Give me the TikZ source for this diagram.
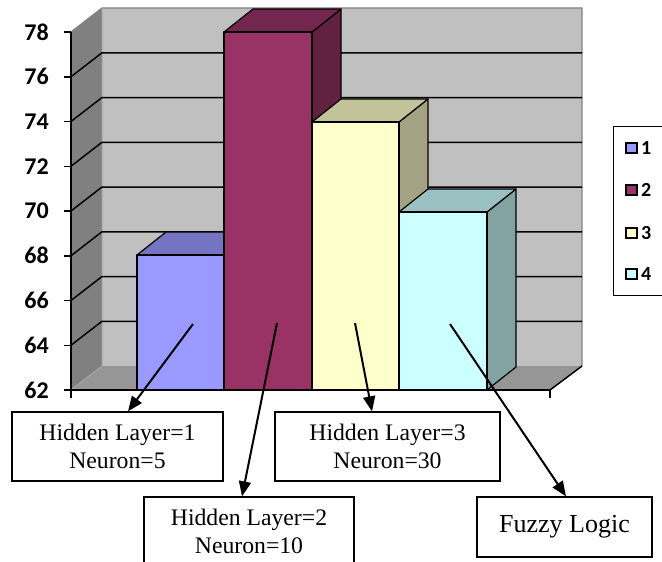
\documentclass[tikz,border=0pt]{standalone}
\usepackage{fontspec}
\setmainfont{Liberation Serif}
\newfontfamily\axisfont{Carlito}
\usetikzlibrary{arrows.meta,calc}

\definecolor{wallside}{HTML}{808080}
\definecolor{wallback}{HTML}{C0C0C0}
\definecolor{floorgray}{HTML}{969696}
\definecolor{barA}{HTML}{9999FF}
\definecolor{barB}{HTML}{993366}
\definecolor{barC}{HTML}{FFFFCC}
\definecolor{barD}{HTML}{CCFFFF}

% one 3-D column: left x, right x, top y, colour (base at y=390, depth 29/-23)
\newcommand\columnbar[4]{%
  \filldraw[barline, fill=#4!64!black] (#2,390) -- (#2+29,367) -- (#2+29,#3-23) -- (#2,#3) -- cycle;
  \filldraw[barline, fill=#4!76!black] (#1,#3) -- (#1+29,#3-23) -- (#2+29,#3-23) -- (#2,#3) -- cycle;
  \filldraw[barline, fill=#4] (#1,390) rectangle (#2,#3);
}

\begin{document}
\begin{tikzpicture}[x=1pt, y=-1pt,
  barline/.style={draw=black, line width=1.2pt, line join=round},
  grid/.style={black, line width=1.5pt},
  walledge/.style={draw=wallside, line width=1.2pt},
  ticklabel/.style={font=\axisfont\bfseries\fontsize{24}{28}\selectfont, anchor=east, inner sep=0pt},
  legkey/.style={draw=black, line width=1.7pt, minimum size=10.5pt, inner sep=0pt},
  legtext/.style={font=\axisfont\bfseries\fontsize{20}{22}\selectfont, anchor=west, inner sep=0pt},
  infobox/.style={draw=black, line width=1.3pt, align=center, inner sep=0pt,
    font=\fontsize{23.7}{28}\selectfont},
  pointer/.style={line width=2pt, -{Triangle[length=15pt,width=12pt]}}
]
\useasboundingbox (0,0) rectangle (662,562);
\clip (0,0) rectangle (662,562);

% walls and floor
\fill[wallside] (71,32) -- (102,8) -- (102,366) -- (71,390) -- cycle;
\fill[wallback] (102,8) rectangle (582,366);
\fill[floorgray] (71,390) -- (102,366) -- (582,366) -- (550,390) -- cycle;
\draw[walledge] (71,32) -- (102,8) -- (582,8) -- (582,366);
\draw[draw=gray!70, line width=1pt] (71,390) -- (102,366) -- (102,8);

% gridlines
\foreach \lv in {64,66,...,76} {
  \pgfmathsetmacro\yy{390-(\lv-62)*22.375}
  \draw[grid] (71,\yy) -- (102,\yy-24) -- (582,\yy-24);
}
\draw[grid] (550,390) -- (582,366);

% columns
\columnbar{137}{224}{255}{barA}
\columnbar{224}{312}{32}{barB}
\columnbar{312}{399}{122}{barC}
\columnbar{399}{487}{212}{barD}

% axes
\draw[grid] (71,32) -- (71,390) -- (550,390);
\draw[grid] (71,390) -- (71,398);
\draw[grid] (550,390) -- (550,398);
\foreach \lv in {62,64,...,78} {
  \pgfmathsetmacro\yy{390-(\lv-62)*22.375}
  \draw[grid] (64,\yy) -- (71,\yy);
  \node[ticklabel] at (49,\yy) {\lv};
}

% legend
\node[draw=black, line width=1pt, anchor=north west, minimum width=60pt, minimum height=169pt, inner sep=0pt] (legend) at (613,126) {};
\node[legkey, fill=barA] (k1) at (631.5,148) {};
\node[legkey, fill=barB] (k2) at (631.5,190) {};
\node[legkey, fill=barC] (k3) at (631.5,233) {};
\node[legkey, fill=barD] (k4) at (631.5,274) {};
\node[legtext] (l1) at (641,148) {1};
\node[legtext] (l2) at (641,190) {2};
\node[legtext] (l3) at (641,233) {3};
\node[legtext] (l4) at (641,274) {4};

% annotation boxes
\node[infobox, minimum width=211pt, minimum height=69pt] (b1) at (117.5,446.5) {Hidden Layer=1\\Neuron=5};
\node[infobox, minimum width=210pt, minimum height=69pt] (b2) at (249,531.5) {Hidden Layer=2\\Neuron=10};
\node[infobox, minimum width=225pt, minimum height=69pt] (b3) at (387.5,446.5) {Hidden Layer=3\\Neuron=30};
\node[infobox, minimum width=175pt, minimum height=60pt, font=\fontsize{26}{30}\selectfont] (b4) at (564.5,527) {Fuzzy Logic};

% pointers
\coordinate (s1) at (193,324);
\coordinate (s2) at (277,323);
\coordinate (s3) at (355,323);
\coordinate (s4) at (450,324);
\draw[pointer] (s1) -- ([xshift=10.5pt]b1.north);
\draw[pointer] (s2) -- ([xshift=-7pt]b2.north);
\draw[pointer] (s3) -- ([xshift=-15.5pt]b3.north);
\draw[pointer] (s4) -- ([xshift=1.5pt]b4.north);
\end{tikzpicture}
\end{document}
